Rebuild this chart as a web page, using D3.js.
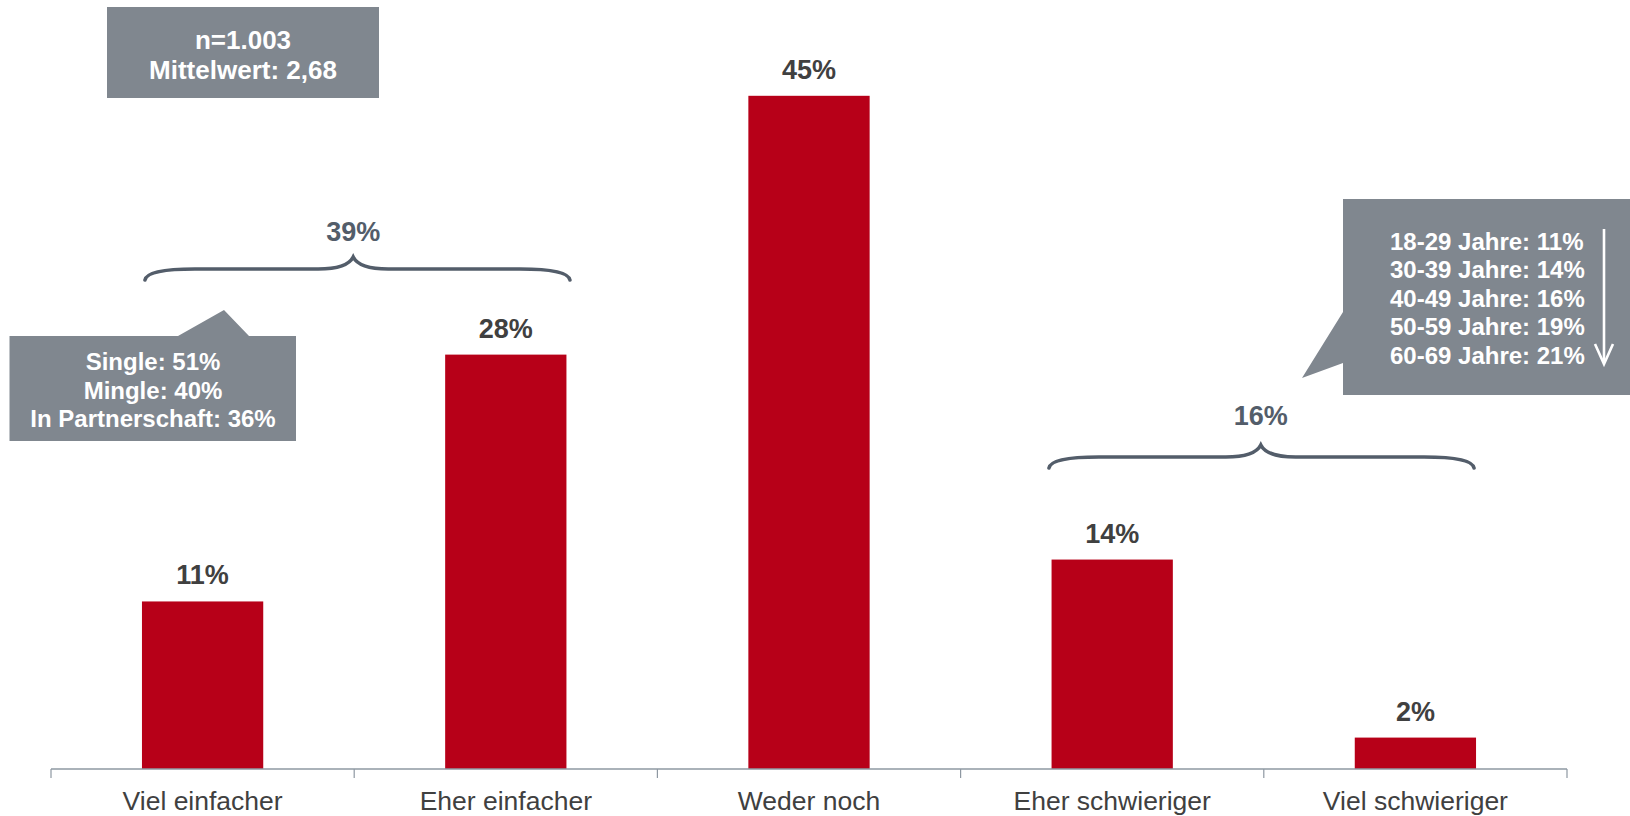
<!DOCTYPE html>
<html>
<head>
<meta charset="utf-8">
<script src="https://cdn.jsdelivr.net/npm/d3@7/dist/d3.min.js"></script>
<style>
  html, body { margin: 0; padding: 0; background: #fff; }
  svg { display: block; font-family: "Liberation Sans", Arial, sans-serif; }
</style>
</head>
<body>
<svg id="chart" width="1630" height="816"></svg>
<script>
// ---- data ----
const categories = ["Viel einfacher", "Eher einfacher", "Weder noch", "Eher schwieriger", "Viel schwieriger"];
const values = [11.2, 27.7, 45, 14, 2.1];
const valueLabels = ["11%", "28%", "45%", "14%", "2%"];
const infoLines = ["n=1.003", "Mittelwert: 2,68"];
const easierGroup = { label: "39%", from: 0, to: 1 };
const harderGroup = { label: "16%", from: 3, to: 4 };
const relationLines = ["Single: 51%", "Mingle: 40%", "In Partnerschaft: 36%"];
const ageLines = ["18-29 Jahre: 11%", "30-39 Jahre: 14%", "40-49 Jahre: 16%", "50-59 Jahre: 19%", "60-69 Jahre: 21%"];

// ---- layout ----
const axisY = 769, axisLeft = 51, axisRight = 1567;
const barColor = "#b70018";
const boxColor = "#80878f";
const braceColor = "#535d6a";
const textDark = "#404040";

const svg = d3.select("#chart");

const x = d3.scaleBand().domain(categories).range([axisLeft, axisRight]).paddingInner(0.6).paddingOuter(0.3);
const y = d3.scaleLinear().domain([0, 50]).range([axisY, axisY - 14.96 * 50]);

// bars
svg.append("g").selectAll("rect").data(values).join("rect")
  .attr("x", (d, i) => x(categories[i]))
  .attr("y", d => y(d))
  .attr("width", x.bandwidth())
  .attr("height", d => y(0) - y(d))
  .attr("fill", barColor);

// value labels
svg.append("g").selectAll("text").data(values).join("text")
  .attr("x", (d, i) => x(categories[i]) + x.bandwidth() / 2)
  .attr("y", d => y(d) - 17)
  .attr("text-anchor", "middle")
  .attr("font-size", 27)
  .attr("font-weight", "bold")
  .attr("fill", textDark)
  .text((d, i) => valueLabels[i]);

// axis
const axisG = svg.append("g").attr("transform", `translate(0,${axisY})`)
  .call(d3.axisBottom(x).tickSize(0).tickSizeOuter(0));
axisG.select(".domain").remove();
axisG.selectAll("text")
  .attr("y", 41).attr("dy", null)
  .attr("font-size", 26.5)
  .attr("font-family", "Liberation Sans, Arial, sans-serif")
  .attr("fill", textDark);
svg.append("line")
  .attr("x1", axisLeft).attr("x2", axisRight)
  .attr("y1", axisY).attr("y2", axisY)
  .attr("stroke", "#8e98a2").attr("stroke-width", 1.5);
const boundaries = d3.range(categories.length + 1).map(i => axisLeft + i * (axisRight - axisLeft) / categories.length);
svg.append("g").selectAll("line").data(boundaries).join("line")
  .attr("x1", d => d).attr("x2", d => d)
  .attr("y1", axisY).attr("y2", axisY + 9)
  .attr("stroke", "#8e98a2").attr("stroke-width", 1.2);

// braces
function brace(x0, x1, xc, yE, yF, yP) {
  return `M${x0},${yE} Q${x0 + 2},${yF} ${x0 + 50},${yF} L${xc - 35},${yF} Q${xc - 6},${yF} ${xc},${yP}`
       + ` Q${xc + 6},${yF} ${xc + 35},${yF} L${x1 - 50},${yF} Q${x1 - 2},${yF} ${x1},${yE}`;
}
function drawBrace(g, offL, offR, offC, yE, yF, yP, labelY) {
  const left = x(categories[g.from]);
  const right = x(categories[g.to]) + x.bandwidth();
  const a = left + offL, b = right + offR, c = (left + right) / 2 + offC;
  svg.append("path").attr("d", brace(a, b, c, yE, yF, yP))
    .attr("fill", "none").attr("stroke", braceColor).attr("stroke-width", 3.6)
    .attr("stroke-linecap", "round");
  svg.append("text").attr("x", c).attr("y", labelY)
    .attr("text-anchor", "middle").attr("font-size", 27).attr("font-weight", "bold")
    .attr("fill", braceColor).text(g.label);
}
drawBrace(easierGroup, 3, 3.5, -1, 280, 269, 257, 241);
drawBrace(harderGroup, -2.6, -2, -3, 468, 457, 445, 425);

// info box
svg.append("rect").attr("x", 107).attr("y", 7).attr("width", 272).attr("height", 91).attr("fill", boxColor);
svg.append("g").selectAll("text").data(infoLines).join("text")
  .attr("x", 243).attr("y", (d, i) => 48.5 + i * 30.7)
  .attr("text-anchor", "middle").attr("font-size", 26).attr("font-weight", "bold")
  .attr("fill", "#fff").text(d => d);

// relationship callout
svg.append("path")
  .attr("d", "M9.5,336 L178,336 L224,310 L249,336 L296,336 L296,441 L9.5,441 Z")
  .attr("fill", boxColor);
svg.append("g").selectAll("text").data(relationLines).join("text")
  .attr("x", 153).attr("y", (d, i) => 370 + i * 28.5)
  .attr("text-anchor", "middle").attr("font-size", 24).attr("font-weight", "bold")
  .attr("fill", "#fff").text(d => d);

// age callout
svg.append("path")
  .attr("d", "M1343,199 L1630,199 L1630,395 L1343,395 L1343,363 L1302,378 L1343,312 Z")
  .attr("fill", boxColor);
svg.append("g").selectAll("text").data(ageLines).join("text")
  .attr("x", 1390).attr("y", (d, i) => 249.5 + i * 28.6)
  .attr("text-anchor", "start").attr("font-size", 24).attr("font-weight", "bold")
  .attr("fill", "#fff").text(d => d);
svg.append("line").attr("x1", 1604).attr("x2", 1604).attr("y1", 229).attr("y2", 363)
  .attr("stroke", "#fff").attr("stroke-width", 2.6);
svg.append("path").attr("d", "M1595,344 L1604,364 L1613,344")
  .attr("fill", "none").attr("stroke", "#fff").attr("stroke-width", 2.6);
</script>
</body>
</html>
